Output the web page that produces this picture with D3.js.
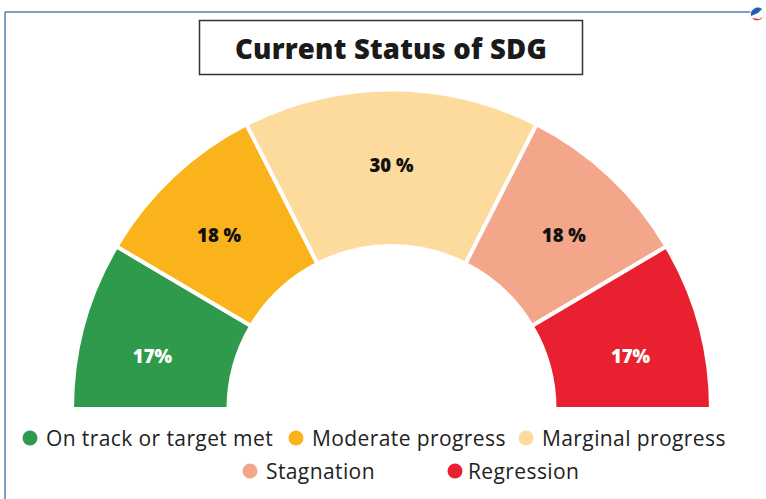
<!DOCTYPE html>
<html><head><meta charset="utf-8">
<script src="https://cdn.jsdelivr.net/npm/d3@7"></script>
<style>html,body{margin:0;padding:0;background:#fff;}svg{display:block;}</style>
</head><body>
<svg id="chart" width="766" height="499"></svg>
<script>
const categories = ["On track or target met","Moderate progress","Marginal progress","Stagnation","Regression"];
const values = [17, 18, 30, 18, 17];
const valueLabels = ["17%","18 %","30 %","18 %","17%"];
const colors = ["#2f9a4b","#fbb31b","#fddb9c","#f4a68b","#e8202f"];
const labelColors = ["#ffffff","#111111","#111111","#111111","#ffffff"];
const title = "Current Status of SDG";

const svg = d3.select("#chart");
const W = 766, H = 499;
const cx = 391.5, cy = 409, rOuter = 319.5, rInner = 163;
const font = "'Open Sans', sans-serif";

// frame lines
svg.append("line").attr("x1",5).attr("x2",752).attr("y1",12).attr("y2",12)
  .attr("stroke","#5a7fb0").attr("stroke-width",1.5);
svg.append("line").attr("x1",5).attr("x2",5).attr("y1",12).attr("y2",H)
  .attr("stroke","#5a7fb0").attr("stroke-width",1.5);

// logo
const logo = svg.append("g").attr("transform","translate(757,14)");
logo.append("circle").attr("r",7).attr("fill","#fff").attr("stroke","#ddd").attr("stroke-width",0.5);
logo.append("path").attr("d","M-6,2 A7,7 0 0 1 5,-5 L1,-1 Z").attr("fill","#1f5fb5");
logo.append("path").attr("d","M-5,4 A7,7 0 0 0 6,3 L2,5 Z").attr("fill","#d93030");

// title box
svg.append("rect").attr("x",199.5).attr("y",20.5).attr("width",383).attr("height",54)
  .attr("fill","#fff").attr("stroke","#333").attr("stroke-width",1.5);
svg.append("text").attr("x",391).attr("y",48).attr("text-anchor","middle")
  .attr("dominant-baseline","central").attr("font-family",font).attr("font-weight",800)
  .attr("font-size",27.5).attr("letter-spacing",0.2).attr("fill","#1a1a1a").text(title);

// semi donut
const pie = d3.pie().sort(null).value(d => d)
  .startAngle(-Math.PI/2).endAngle(Math.PI/2);
const arc = d3.arc().innerRadius(rInner).outerRadius(rOuter);
const arcs = pie(values);
const g = svg.append("g").attr("transform",`translate(${cx},${cy})`);
g.selectAll("path.slice").data(arcs).join("path").attr("class","slice")
  .attr("d",arc).attr("fill",(d,i)=>colors[i])
  .attr("stroke","#fff").attr("stroke-width",4).attr("stroke-linejoin","miter");
const labelR = 245;
function labelPos(d){
  const a = ((d.startAngle + d.endAngle)/2) * 1.035;
  return [Math.sin(a)*labelR, -Math.cos(a)*labelR];
}
g.selectAll("text.val").data(arcs).join("text").attr("class","val")
  .attr("transform",d=>`translate(${labelPos(d)})`)
  .attr("text-anchor","middle").attr("dominant-baseline","central")
  .attr("font-family",font).attr("font-weight",800).attr("font-size",18.5)
  .attr("fill",(d,i)=>labelColors[i]).text((d,i)=>valueLabels[i]);
// clean bottom edge
svg.append("rect").attr("x",cx-rOuter-5).attr("y",cy).attr("width",2*rOuter+10).attr("height",3).attr("fill","#fff");

// legend
const legendPos = [[30,438],[296,438],[526,438],[250,471],[455,471]];
const lg = svg.append("g");
categories.forEach((c,i)=>{
  const [x,y] = legendPos[i];
  lg.append("circle").attr("cx",x).attr("cy",y).attr("r",7.5).attr("fill",colors[i]);
  lg.append("text").attr("x",x+ (i===4?13:16)).attr("y",y).attr("dominant-baseline","central")
    .attr("font-family",font).attr("font-size",21).attr("letter-spacing",0.4)
    .attr("fill","#222").text(c);
});
</script>
</body></html>
